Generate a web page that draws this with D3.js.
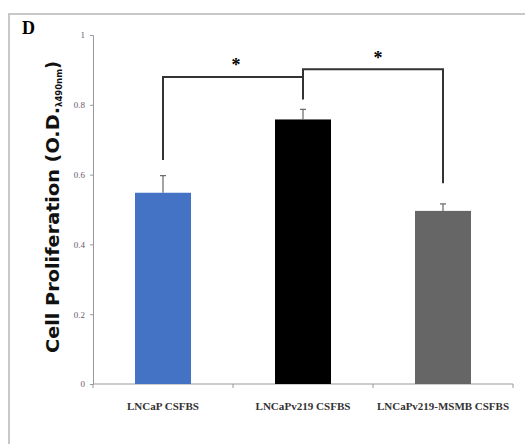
<!DOCTYPE html>
<html><head><meta charset="utf-8">
<script src="https://cdn.jsdelivr.net/npm/d3@7"></script>
<style>body{margin:0;background:#fff}svg{display:block}</style>
</head><body>
<script>
const categories = ["LNCaP CSFBS", "LNCaPv219 CSFBS", "LNCaPv219-MSMB CSFBS"];
const values = [0.548, 0.758, 0.496];
const errors = [0.049, 0.029, 0.02];
const colors = ["#4472C4", "#000000", "#666666"];
const yTicks = [0, 0.2, 0.4, 0.6, 0.8, 1];
const yTickLabels = ["0", "0.2", "0.4", "0.6", "0.8", "1"];
const labelWidths = [72, 95, 132];

const W = 525, H = 444;
const svg = d3.select("body").append("svg").attr("width", W).attr("height", H);

// outer frame
svg.append("path").attr("d", "M9,444 V14 H525").attr("fill", "none").attr("stroke", "#c8c8c8").attr("stroke-width", 2);

const x = d3.scaleBand().domain(categories).range([93, 513]).paddingInner(0.6).paddingOuter(0.3);
const y = d3.scaleLinear().domain([0, 1]).range([384, 35]);

// y axis
const yAx = svg.append("g").attr("transform", "translate(93,0)")
  .call(d3.axisLeft(y).tickValues(yTicks).tickFormat((d, i) => yTickLabels[i]).tickSize(3).tickPadding(5));
yAx.select(".domain").attr("stroke", "#999");
yAx.selectAll(".tick line").attr("stroke", "#999");
yAx.selectAll("text").attr("fill", "#6a5a70").style("font-family", "Liberation Serif").style("font-size", "9px");

// x axis
const xOuter = d3.scalePoint().domain(d3.range(4)).range([93, 513]);
svg.append("line").attr("x1", 93).attr("x2", 513).attr("y1", 384).attr("y2", 384).attr("stroke", "#999");
svg.selectAll(".xt").data(d3.range(4)).enter().append("line")
  .attr("x1", d => xOuter(d)).attr("x2", d => xOuter(d)).attr("y1", 384).attr("y2", 388).attr("stroke", "#999");

svg.selectAll(".xl").data(categories).enter().append("text")
  .attr("x", d => x(d) + x.bandwidth() / 2).attr("y", 410)
  .attr("text-anchor", "middle")
  .attr("textLength", (d, i) => labelWidths[i]).attr("lengthAdjust", "spacingAndGlyphs")
  .style("font-family", "Liberation Serif").style("font-weight", "bold").style("font-size", "11px")
  .attr("fill", "#333").text(d => d);

// bars
svg.selectAll(".bar").data(categories).enter().append("rect")
  .attr("x", d => x(d)).attr("width", x.bandwidth())
  .attr("y", (d, i) => y(values[i])).attr("height", (d, i) => y(0) - y(values[i]))
  .attr("fill", (d, i) => colors[i]);

// error bars
categories.forEach((c, i) => {
  const cx = x(c) + x.bandwidth() / 2;
  svg.append("line").attr("x1", cx).attr("x2", cx).attr("y1", y(values[i])).attr("y2", y(values[i] + errors[i])).attr("stroke", "#666").attr("stroke-width", 1.2);
  svg.append("line").attr("x1", cx - 3).attr("x2", cx + 3).attr("y1", y(values[i] + errors[i])).attr("y2", y(values[i] + errors[i])).attr("stroke", "#666").attr("stroke-width", 1.2);
});

// significance brackets
const cxOf = i => x(categories[i]) + x.bandwidth() / 2;
const br = svg.append("g").attr("fill", "none").attr("stroke", "#333").attr("stroke-width", 2);
br.append("path").attr("d", `M${cxOf(0)},${y(0.642)} V${y(0.88)} H${cxOf(1)} V${y(0.815)}`);
br.append("path").attr("d", `M${cxOf(1)},${y(0.88)} V${y(0.902)} H${cxOf(2)} V${y(0.575)}`);
svg.append("text").attr("x", (cxOf(0) + cxOf(1)) / 2 + 3).attr("y", y(0.92) + 8).attr("text-anchor", "middle")
  .style("font-family", "Liberation Serif").style("font-weight", "bold").style("font-size", "18px").text("*");
svg.append("text").attr("x", (cxOf(1) + cxOf(2)) / 2 + 5).attr("y", y(0.94) + 8).attr("text-anchor", "middle")
  .style("font-family", "Liberation Serif").style("font-weight", "bold").style("font-size", "18px").text("*");

// panel letter
svg.append("text").attr("x", 22).attr("y", 34).style("font-family", "Liberation Serif").style("font-weight", "bold").style("font-size", "18px").text("D");

// y label
const yl = svg.append("text").attr("transform", "translate(59,353) rotate(-90)").attr("text-anchor", "start")
  .style("font-family", "DejaVu Sans").style("font-weight", "bold").style("font-size", "17.5px").attr("fill", "#111");
yl.append("tspan").attr("textLength", 246).attr("lengthAdjust", "spacingAndGlyphs").text("Cell Proliferation (O.D.");
yl.append("tspan").attr("dy", 3).style("font-size", "8.5px").text("λ490nm");
yl.append("tspan").attr("dy", -3).text(")");
</script>
</body></html>
